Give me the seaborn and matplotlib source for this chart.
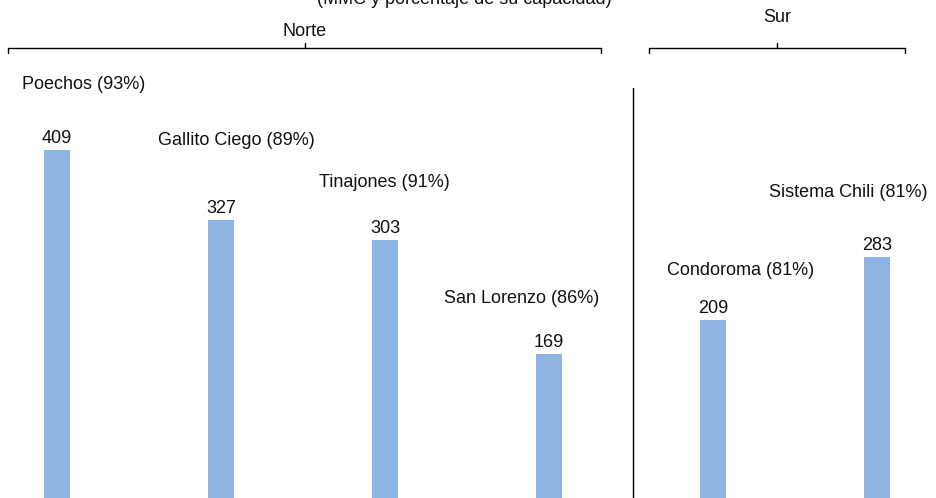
import matplotlib
matplotlib.use("Agg")
import matplotlib.pyplot as plt
import seaborn as sns

# Volumen almacenado (MMC) y porcentaje de capacidad
embalses = ["Poechos", "Gallito Ciego", "Tinajones", "San Lorenzo", "Condoroma", "Sistema Chili"]
volumen = [409, 327, 303, 169, 209, 283]
capacidad = [93, 89, 91, 86, 81, 81]
regiones = ["Norte", "Sur"]

# desplazamientos (px) de las etiquetas de nombre respecto al tope de cada barra
offsets_nombre = [(27, 65), (15, 79), (-1, 58), (-27, 56), (28, 50), (-29, 65)]

sns.set_theme(style="white")
plt.rcParams["font.family"] = ["Liberation Sans", "DejaVu Sans"]

fig = plt.figure(figsize=(9.37, 4.98), dpi=100)
ax = fig.add_axes([0, 0, 1, 1])

sns.barplot(x=embalses, y=volumen, order=embalses, color="#8EB4E3",
            width=0.16, saturation=1, linewidth=0, ax=ax)

ax.set_xlim(-57 / 164, (937 - 57) / 164)
ax.set_ylim(0, 498 / 0.851)
ax.axis("off")

fs = 13
for i, (v, c) in enumerate(zip(volumen, capacidad)):
    ax.annotate(f"{v}", (i, v), xytext=(0, 3), textcoords="offset pixels",
                ha="center", va="bottom", fontsize=fs, color="#111111")
    dx, dy = offsets_nombre[i]
    ax.annotate(f"{embalses[i]} ({c}%)", (i, v), xytext=(dx, dy),
                textcoords="offset pixels", ha="center", va="center",
                fontsize=fs, color="#111111")

# separador entre Norte y Sur
tr = ax.get_xaxis_transform()
ax.plot([3.51, 3.51], [0, 1 - 88 / 498], color="black", lw=1, transform=tr, clip_on=False)

# llaves de región
def llave(x0, x1, xm, etiqueta, ylab):
    yb = 1 - 48 / 498
    ye = 1 - 53 / 498
    yt = 1 - 43 / 498
    ax.plot([x0, x0, x1, x1], [ye, yb, yb, ye], color="black", lw=1, transform=tr, clip_on=False)
    ax.plot([xm, xm], [yb, yt], color="black", lw=1, transform=tr, clip_on=False)
    ax.text(xm, ylab, etiqueta, transform=tr, ha="center", va="center", fontsize=fs, color="#111111")

llave(-0.30, 3.32, 1.51, regiones[0], 1 - 32 / 498)
llave(3.61, 5.17, 4.39, regiones[1], 1 - 17 / 498)

fig.text(0.496, 1 - 4 / 498, "(MMC y porcentaje de su capacidad)", ha="center",
         va="baseline", fontsize=fs, color="#111111")

fig.savefig("out.png", dpi=100)
